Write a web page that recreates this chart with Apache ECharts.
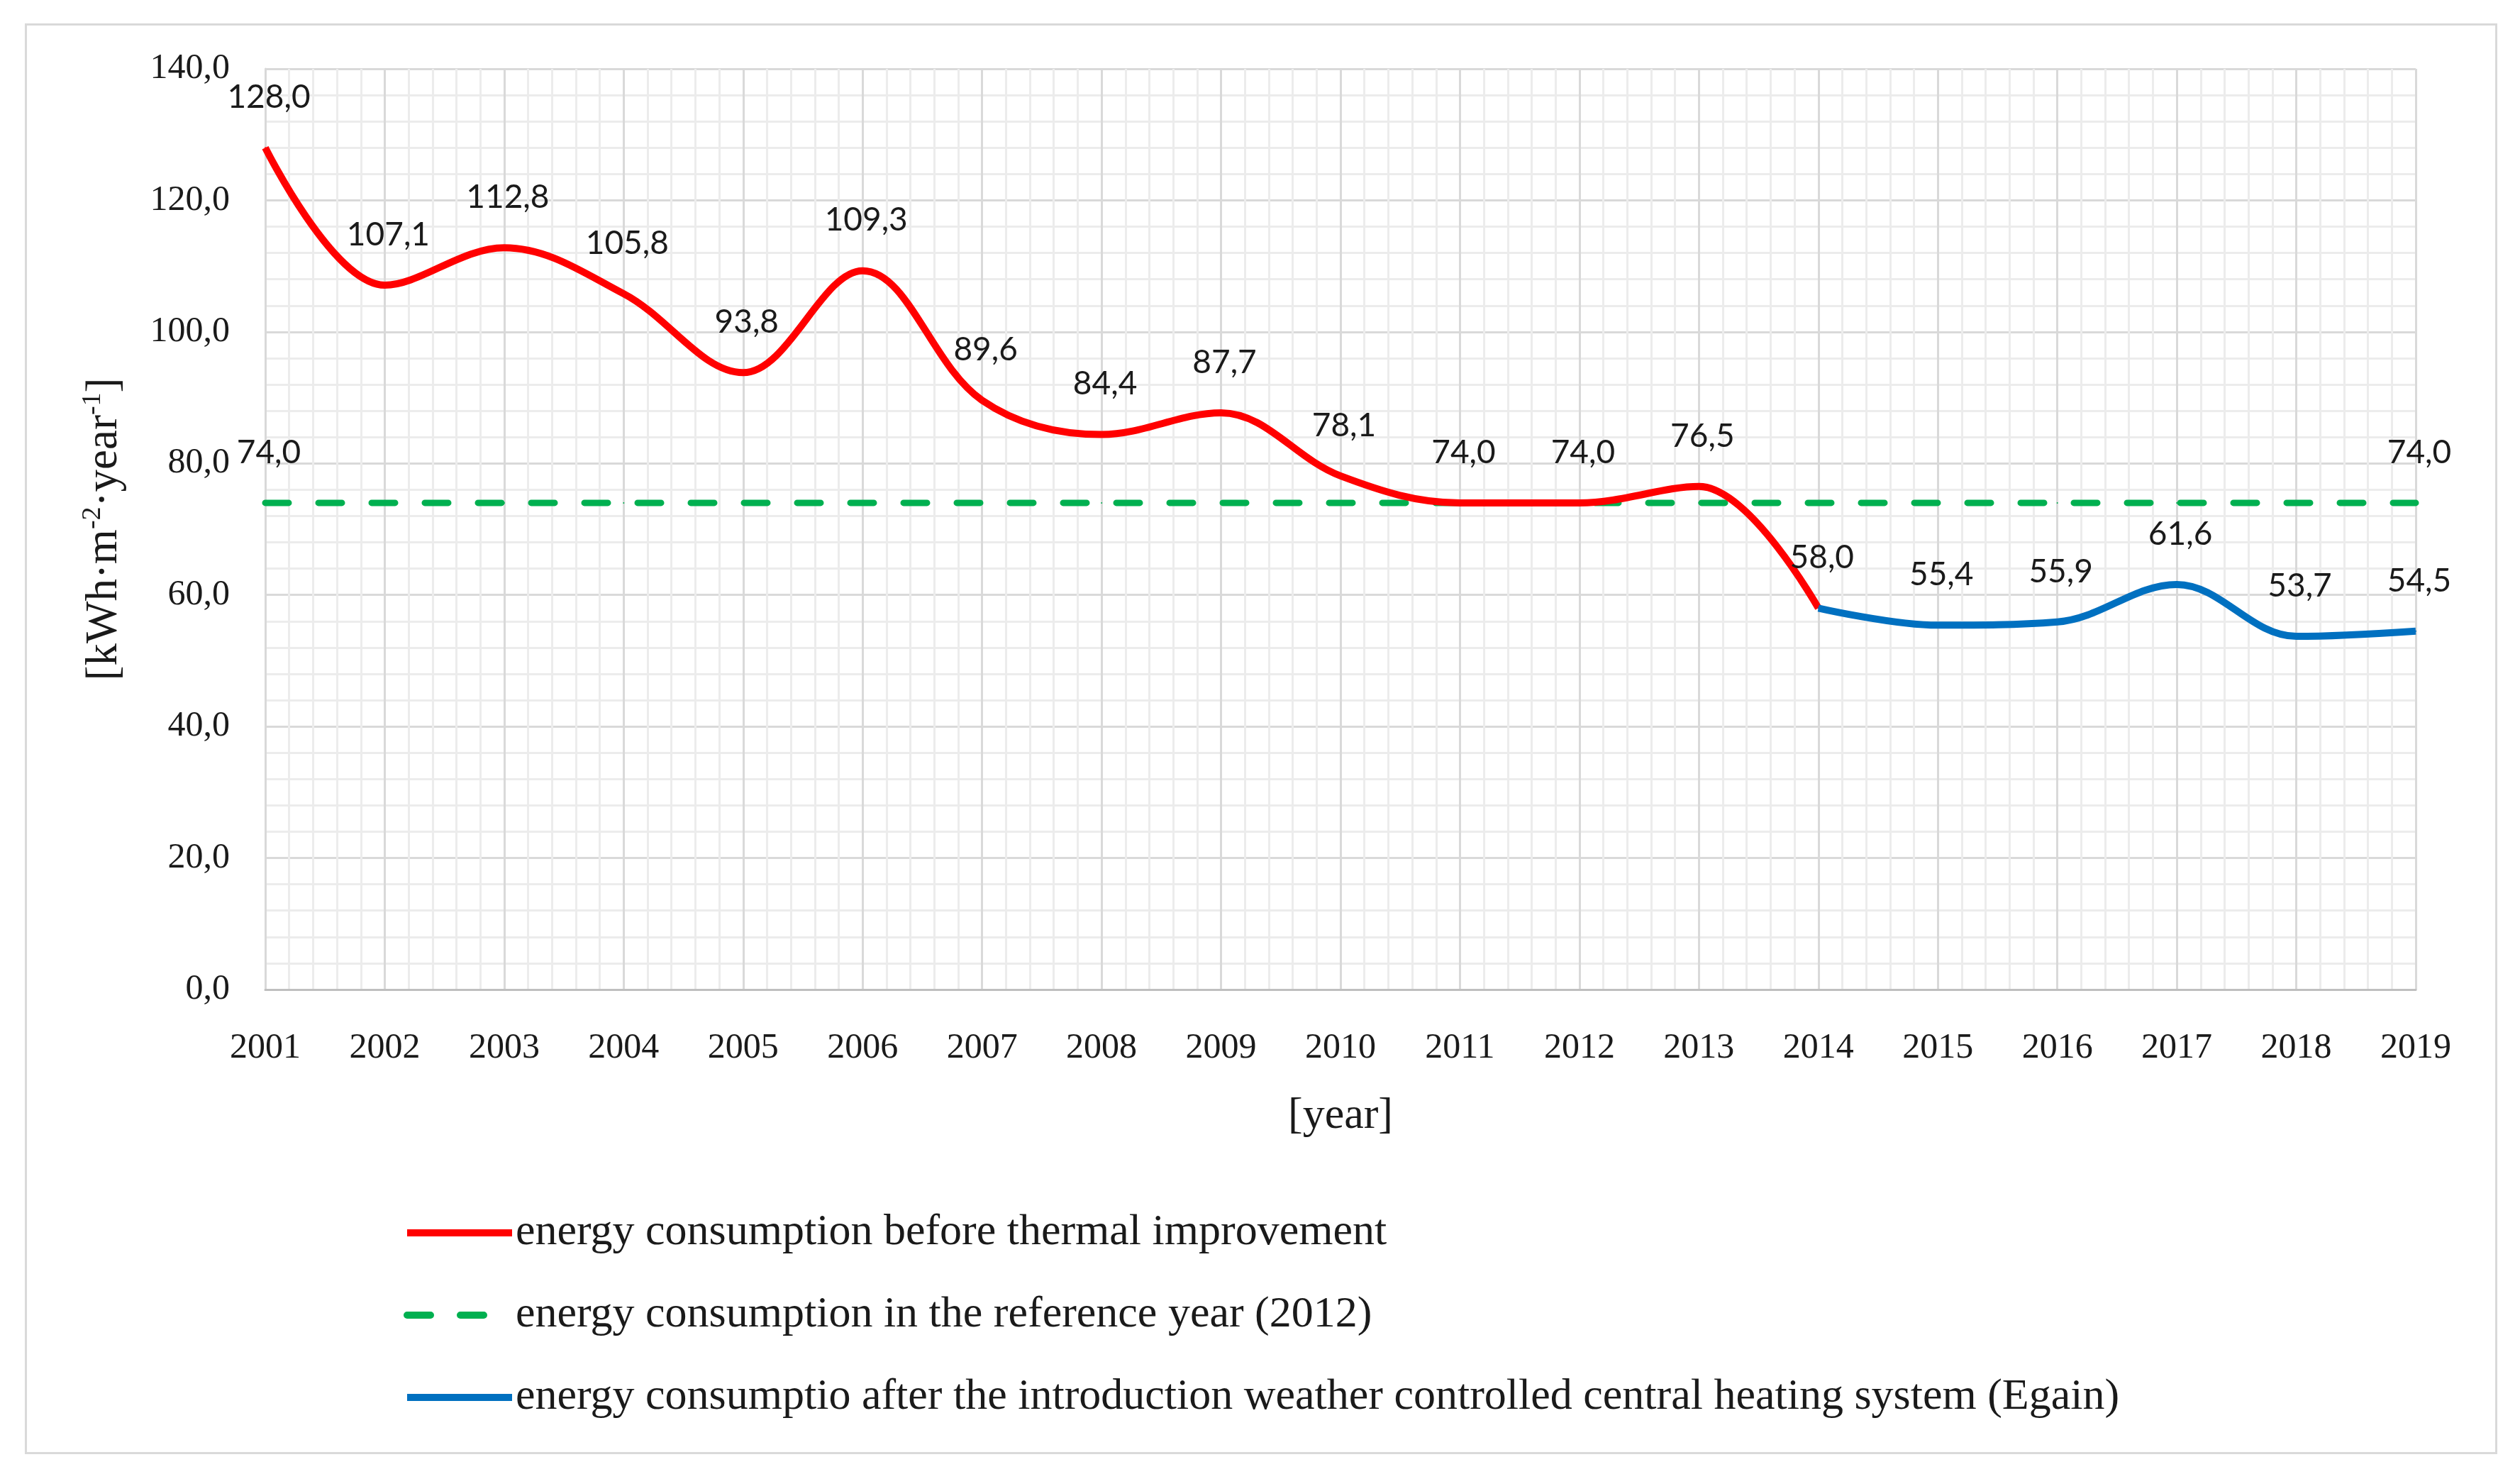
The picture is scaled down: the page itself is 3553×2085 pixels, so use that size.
<!DOCTYPE html>
<html>
<head>
<meta charset="utf-8">
<script src="https://cdn.jsdelivr.net/npm/echarts@6/dist/echarts.min.js"></script>
<style>
html,body{margin:0;padding:0;background:#fff;}
#chart{width:3553px;height:2085px;}
</style>
</head>
<body>
<div id="chart"></div>
<script>
// ---- data ----
const years = [2001,2002,2003,2004,2005,2006,2007,2008,2009,2010,2011,2012,2013,2014,2015,2016,2017,2018,2019];
const beforeYears = [2001,2002,2003,2004,2005,2006,2007,2008,2009,2010,2011,2012,2013,2014];
const beforeValues = [128.0,107.1,112.8,105.8,93.8,109.3,89.6,84.4,87.7,78.1,74.0,74.0,76.5,58.0];
const referenceValue = 74.0;
const afterYears = [2014,2015,2016,2017,2018,2019];
const afterValues = [58.0,55.4,55.9,61.6,53.7,54.5];
const yTicks = [0,20,40,60,80,100,120,140];
const seriesNames = [
  'energy consumption before thermal improvement',
  'energy consumption in the reference year (2012)',
  'energy consumptio after the introduction weather controlled central heating system (Egain)'
];

const fmt = v => Number(v).toFixed(1).replace('.', ',');
const SERIF = '"Liberation Serif", "Times New Roman", serif';
const SANS = 'Lato, "Open Sans", sans-serif';

const labelBase = {
  show: true, position: 'top', distance: 47, offset: [5, 0],
  fontFamily: SANS, fontSize: 46, color: '#1a1a1a',
  formatter: p => fmt(p.value[1])
};

const redData = beforeYears.map((y,i) => [y, beforeValues[i]]);
const greenData = years.map((y,i) => ({
  value: [y, referenceValue],
  label: { show: i === 0 || i === years.length - 1 }
}));
const blueData = afterYears.map((y,i) => ({
  value: [y, afterValues[i]],
  label: { show: i !== 0 }
}));

const chart = echarts.init(document.getElementById('chart'), null, {renderer: 'canvas'});
chart.setOption({
  backgroundColor: '#ffffff',
  animation: false,
  graphic: [{
    type: 'rect', left: 34, top: 32, z: -10,
    shape: { width: 3483, height: 2014 },
    style: { fill: 'none', stroke: '#d9d9d9', lineWidth: 3 }
  }],
  grid: { left: 374, right: 147, top: 97, bottom: 690, containLabel: false },
  xAxis: {
    type: 'value', min: years[0], max: years[years.length-1], interval: 1,
    name: '[year]', nameLocation: 'middle', nameGap: 148,
    nameTextStyle: { fontFamily: SERIF, fontSize: 62, color: '#1a1a1a' },
    axisLine: { show: true, lineStyle: { color: '#bfbfbf', width: 3 } },
    axisTick: { show: false },
    axisLabel: { fontFamily: SERIF, fontSize: 50, color: '#1a1a1a', margin: 58, formatter: v => String(v) },
    splitLine: { show: true, lineStyle: { color: '#d9d9d9', width: 3 } },
    minorTick: { show: false, splitNumber: 5 },
    minorSplitLine: { show: true, lineStyle: { color: '#ececec', width: 3 } }
  },
  yAxis: {
    type: 'value', min: yTicks[0], max: yTicks[yTicks.length-1], interval: 20,
    name: '{a|[kWh·m}{s|-2}{a|·year}{s|-1}{a|]}',
    nameLocation: 'middle', nameGap: 192, nameRotate: 90,
    nameTextStyle: {
      rich: {
        a: { fontFamily: SERIF, fontSize: 63, color: '#1a1a1a', lineHeight: 70 },
        s: { fontFamily: SERIF, fontSize: 38, color: '#1a1a1a', lineHeight: 70, verticalAlign: 'top', padding: [0,0,20,0] }
      }
    },
    axisLine: { show: true, lineStyle: { color: '#d9d9d9', width: 3 } },
    axisTick: { show: false },
    axisLabel: { fontFamily: SERIF, fontSize: 50, color: '#1a1a1a', margin: 50, formatter: v => fmt(v) },
    splitLine: { show: true, lineStyle: { color: '#d9d9d9', width: 3 } },
    minorTick: { show: false, splitNumber: 5 },
    minorSplitLine: { show: true, lineStyle: { color: '#ececec', width: 3 } }
  },
  legend: {
    orient: 'vertical', left: 564, top: 1702,
    itemWidth: 148, itemHeight: 12, itemGap: 54,
    itemStyle: { opacity: 0 },
    lineStyle: { width: 10 },
    textStyle: { fontFamily: SERIF, fontSize: 62, color: '#1a1a1a' },
    data: seriesNames
  },
  series: [
    {
      name: seriesNames[0], type: 'line', data: redData, smooth: 0.36,
      symbol: 'circle', symbolSize: 2, showSymbol: true, z: 3,
      lineStyle: { color: '#ff0000', width: 10 },
      itemStyle: { color: '#ff0000' },
      label: labelBase
    },
    {
      name: seriesNames[1], type: 'line', data: greenData, smooth: false,
      symbol: 'circle', symbolSize: 2, showSymbol: true, z: 2,
      lineStyle: { color: '#00b050', width: 9, type: [33, 42], cap: 'round' },
      itemStyle: { color: '#00b050' },
      label: labelBase
    },
    {
      name: seriesNames[2], type: 'line', data: blueData, smooth: 0.36,
      symbol: 'circle', symbolSize: 2, showSymbol: true, z: 3,
      lineStyle: { color: '#0070c0', width: 10 },
      itemStyle: { color: '#0070c0' },
      label: labelBase
    }
  ]
});
</script>
</body>
</html>
